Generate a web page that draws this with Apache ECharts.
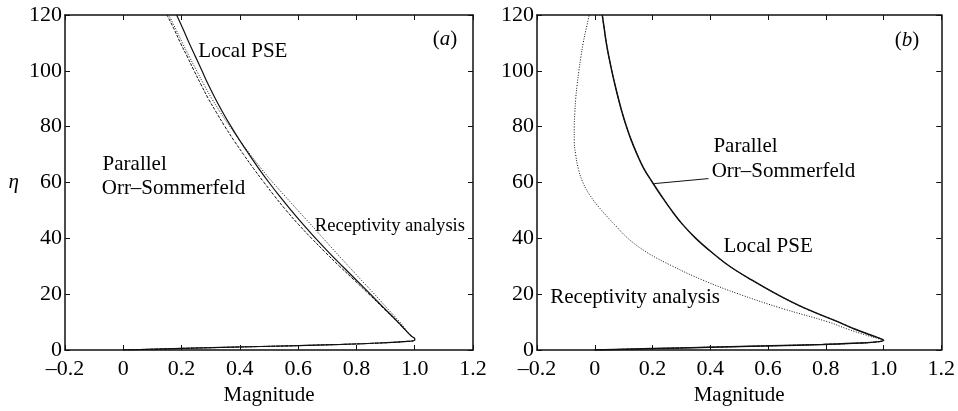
<!DOCTYPE html>
<html>
<head>
<meta charset="utf-8">
<script src="https://cdn.jsdelivr.net/npm/echarts@6/dist/echarts.min.js"></script>
<style>
  html, body { margin: 0; padding: 0; background: #fff; }
  #chart { width: 958px; height: 411px; }
</style>
</head>
<body>
<div id="chart"></div>
<script>
// Wall-normal coordinate (eta) at which each profile is sampled
const eta = [0, 0.5, 1, 1.5, 2, 2.5, 3, 3.5, 4, 5, 7.5, 10, 15, 20, 25, 30, 35, 40, 45,
             50, 55, 60, 65, 70, 75, 80, 85, 90, 95, 100, 105, 110, 115, 120];

// Panel (a): disturbance magnitude profiles
const pseA = [0, 0.17, 0.37, 0.57, 0.75, 0.88, 0.96, 1.0, 1.0, 0.988, 0.965, 0.943, 0.895, 0.848,
              0.800, 0.752, 0.705, 0.660, 0.617, 0.576, 0.537, 0.500, 0.465, 0.432, 0.400, 0.370,
              0.342, 0.316, 0.292, 0.270, 0.248, 0.226, 0.205, 0.183];
const osA  = [0, 0.17, 0.37, 0.57, 0.75, 0.88, 0.96, 1.0, 1.0, 0.988, 0.964, 0.941, 0.892, 0.843,
              0.793, 0.742, 0.693, 0.646, 0.601, 0.559, 0.520, 0.483, 0.447, 0.413, 0.380, 0.349,
              0.320, 0.292, 0.267, 0.243, 0.220, 0.196, 0.174, 0.150];
const recA = [0, 0.17, 0.37, 0.57, 0.75, 0.88, 0.96, 1.0, 1.0, 0.988, 0.968, 0.949, 0.905, 0.862,
              0.817, 0.773, 0.729, 0.686, 0.643, 0.599, 0.556, 0.513, 0.473, 0.436, 0.400, 0.366,
              0.334, 0.304, 0.277, 0.252, 0.227, 0.203, 0.180, 0.156];

// Panel (b): disturbance magnitude profiles
const pseB = [0, 0.2, 0.4, 0.61, 0.79, 0.92, 0.985, 1.0, 0.992, 0.965, 0.90, 0.845, 0.727, 0.630,
              0.545, 0.467, 0.405, 0.350, 0.304, 0.266, 0.232, 0.200, 0.170, 0.147, 0.127, 0.110,
              0.095, 0.082, 0.070, 0.059, 0.049, 0.040, 0.033, 0.026];
const osB  = [0, 0.2, 0.4, 0.61, 0.79, 0.92, 0.985, 1.0, 0.992, 0.965, 0.90, 0.845, 0.727, 0.630,
              0.545, 0.467, 0.405, 0.350, 0.304, 0.266, 0.232, 0.200, 0.170, 0.147, 0.127, 0.110,
              0.095, 0.082, 0.070, 0.059, 0.049, 0.040, 0.033, 0.026];
const recB = [0, 0.2, 0.4, 0.61, 0.79, 0.92, 0.985, 1.0, 0.985, 0.95, 0.875, 0.81, 0.645, 0.50,
              0.375, 0.27, 0.18, 0.115, 0.068, 0.024, -0.014, -0.041, -0.057, -0.066, -0.071, -0.071,
              -0.069, -0.066, -0.061, -0.055, -0.048, -0.040, -0.030, -0.019];

// Tick labels
const xTickLabels = ['\u20130.2', '0', '0.2', '0.4', '0.6', '0.8', '1.0', '1.2'];
const yTickLabels = ['0', '20', '40', '60', '80', '100', '120'];

const FONT = '"Liberation Serif", "Times New Roman", Times, serif';
const INK = '#000';
const X_MIN = -0.2, X_MAX = 1.2, X_STEP = 0.2;
const Y_MIN = 0, Y_MAX = 120, Y_STEP = 20;

const pairs = (xs) => xs.map((x, i) => [x, eta[i]]);

const frameLine = { show: true, onZero: false, lineStyle: { color: '#111', width: 1.5 } };
const innerTick = { show: true, inside: true, length: 5, lineStyle: { color: '#111', width: 1 } };
const tickText = { fontFamily: FONT, fontSize: 22, color: INK };
const titleText = { fontFamily: FONT, fontSize: 21, color: INK };

function xAxesFor(gi) {
  return [
    {
      gridIndex: gi, type: 'value', position: 'bottom',
      min: X_MIN, max: X_MAX, interval: X_STEP,
      axisLine: frameLine, axisTick: innerTick, splitLine: { show: false },
      axisLabel: Object.assign({ margin: 8,
        formatter: v => xTickLabels[Math.round((v - X_MIN) / X_STEP)] }, tickText),
      name: 'Magnitude', nameLocation: 'middle', nameGap: 35,
      nameTextStyle: titleText
    },
    {
      gridIndex: gi, type: 'value', position: 'top',
      min: X_MIN, max: X_MAX, interval: X_STEP,
      axisLine: frameLine, axisTick: innerTick, splitLine: { show: false },
      axisLabel: { show: false }
    }
  ];
}

function yAxesFor(gi, withName) {
  const left = {
    gridIndex: gi, type: 'value', position: 'left',
    min: Y_MIN, max: Y_MAX, interval: Y_STEP,
    axisLine: frameLine, axisTick: innerTick, splitLine: { show: false },
    axisLabel: Object.assign({ margin: 3,
      formatter: v => yTickLabels[Math.round((v - Y_MIN) / Y_STEP)] }, tickText)
  };
  if (withName) {
    left.name = '\u03b7';
    left.nameLocation = 'middle';
    left.nameRotate = 0;
    left.nameGap = 46;
    left.nameTextStyle = Object.assign({ fontStyle: 'italic' }, titleText);
  }
  return [left, {
    gridIndex: gi, type: 'value', position: 'right',
    min: Y_MIN, max: Y_MAX, interval: Y_STEP,
    axisLine: frameLine, axisTick: innerTick, splitLine: { show: false },
    axisLabel: { show: false }
  }];
}

function profile(name, values, axisPair, dash, width) {
  return {
    name, type: 'line', data: pairs(values),
    xAxisIndex: axisPair[0], yAxisIndex: axisPair[1],
    showSymbol: false, symbol: 'none', smooth: 0.4,
    lineStyle: { color: '#111', width: width, type: dash },
    z: 3, silent: true
  };
}

// Text annotations, placed in data coordinates: [x, eta, text, fontSize]
const notesA = [
  [0.257, 107.0, 'Local PSE', 21],
  [-0.071, 66.3, 'Parallel', 21],
  [-0.074, 57.8, 'Orr\u2013Sommerfeld', 21],
  [0.657, 44.3, 'Receptivity analysis', 18.6],
  [1.062, 111.2, '({i|a})', 21]
];
const notesB = [
  [0.411, 72.9, 'Parallel', 21],
  [0.405, 63.9, 'Orr\u2013Sommerfeld', 21],
  [0.446, 37.1, 'Local PSE', 21],
  [-0.154, 18.9, 'Receptivity analysis', 21],
  [1.039, 111.0, '({i|b})', 21]
];

function notes(list, axisPair) {
  return {
    type: 'scatter', xAxisIndex: axisPair[0], yAxisIndex: axisPair[1],
    symbolSize: 0, silent: true, z: 5,
    itemStyle: { opacity: 1 },
    data: list.map(n => ({
      value: [n[0], n[1]],
      label: {
        show: true, position: 'right', distance: 0, opacity: 1,
        align: 'left', verticalAlign: 'middle',
        formatter: n[2], fontFamily: FONT, fontSize: n[3], color: INK,
        rich: { i: { fontFamily: FONT, fontSize: n[3], fontStyle: 'italic', color: INK } }
      }
    }))
  };
}

const leaderB = [[0.206, 59.6], [0.394, 61.4]];

const option = {
  animation: false,
  backgroundColor: '#fff',
  textStyle: { fontFamily: FONT },
  grid: [
    { left: 65, top: 15, width: 408, height: 339, containLabel: false },
    { left: 537, top: 15, width: 409, height: 336, containLabel: false }
  ],
  xAxis: [...xAxesFor(0), ...xAxesFor(1)],
  yAxis: [...yAxesFor(0, true), ...yAxesFor(1, false)],
  series: [
    profile('Local PSE', pseA, [0, 0], 'solid', 1.2),
    profile('Parallel Orr\u2013Sommerfeld', osA, [0, 0], [3, 1.5], 1),
    profile('Receptivity analysis', recA, [0, 0], [1, 1.6], 1),
    notes(notesA, [0, 0]),

    profile('Local PSE', pseB, [2, 2], 'solid', 1.5),
    profile('Parallel Orr\u2013Sommerfeld', osB, [2, 2], [3, 1.5], 1),
    profile('Receptivity analysis', recB, [2, 2], [1, 1.6], 1),
    {
      type: 'line', xAxisIndex: 2, yAxisIndex: 2, data: leaderB,
      showSymbol: false, symbol: 'none', silent: true,
      lineStyle: { color: '#111', width: 1 }
    },
    notes(notesB, [2, 2])
  ]
};

const chart = echarts.init(document.getElementById('chart'), null, { renderer: 'canvas' });
chart.setOption(option);
</script>
</body>
</html>
